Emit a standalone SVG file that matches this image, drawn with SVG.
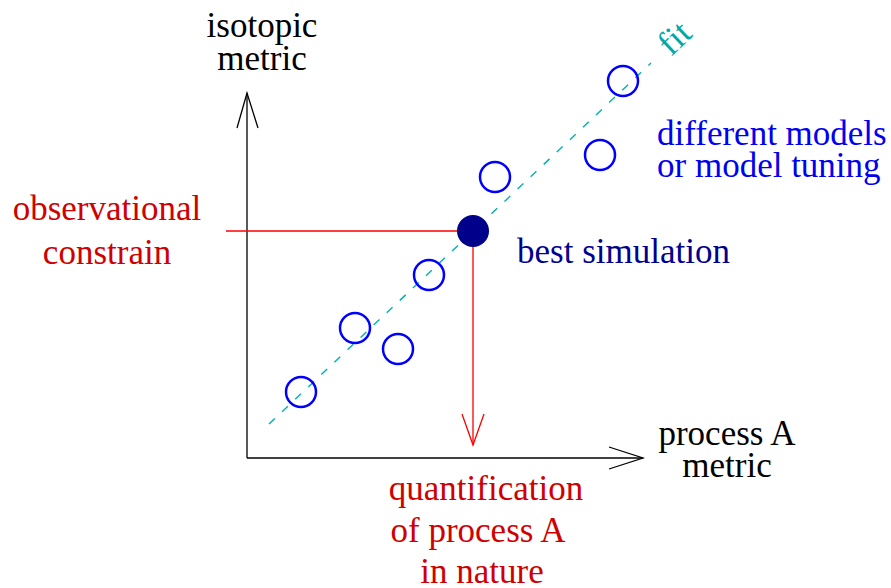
<svg xmlns="http://www.w3.org/2000/svg" width="891" height="588" viewBox="0 0 891 588">
<style>
text{font-family:"Liberation Serif","Times New Roman",serif;font-size:35px}
.k{fill:#000}
.r{fill:#d00000}
.nv{fill:#00008f}
.bl{fill:#0000f0}
.cy{fill:#00a8a8}
.ax{stroke:#000;stroke-width:1.3;fill:none}
.rl{stroke:#ff0000;stroke-width:1.3;fill:none}
.pt{stroke:#0000ff;stroke-width:2.5;fill:none}
.fit{stroke:#00b0b0;stroke-width:1.4;stroke-dasharray:8 10;fill:none}
</style>
<rect width="891" height="588" fill="#fff"/>
<g id="connectors">
<path class="fit" d="M269,424 L651,63"/>
<path class="ax" d="M247,458 L247,93"/>
<path class="ax" d="M237,128 L247,93 L258,128"/>
<path class="ax" d="M247,458 L643,458"/>
<path class="ax" d="M609,447 L643,458 L609,469"/>
<path class="rl" d="M226,231 L473,231 L473,445"/>
<path class="rl" d="M462,414 L473,445 L484,414"/>
</g>
<g id="points">
<circle class="pt" cx="301" cy="392" r="15"/>
<circle class="pt" cx="355" cy="328" r="15"/>
<circle class="pt" cx="398" cy="349" r="15"/>
<circle class="pt" cx="429" cy="275" r="15"/>
<circle class="pt" cx="495" cy="177" r="15"/>
<circle class="pt" cx="600" cy="155" r="15"/>
<circle class="pt" cx="623" cy="81" r="15"/>
</g>
<g id="best">
<circle cx="473" cy="231" r="16" fill="#00008b"/>
<text class="nv" x="517" y="263">best simulation</text>
</g>
<g id="y-label">
<text class="k" x="262" y="37" text-anchor="middle">isotopic</text>
<text class="k" x="262" y="70" text-anchor="middle">metric</text>
</g>
<g id="x-label">
<text class="k" x="727" y="445" text-anchor="middle">process A</text>
<text class="k" x="727" y="477" text-anchor="middle">metric</text>
</g>
<g id="obs-label">
<text class="r" x="107" y="220" text-anchor="middle">observational</text>
<text class="r" x="107" y="264" text-anchor="middle">constrain</text>
</g>
<g id="quant-label">
<text class="r" x="486" y="500" text-anchor="middle">quantification</text>
<text class="r" x="478" y="542" text-anchor="middle">of process A</text>
<text class="r" x="482" y="583" text-anchor="middle">in nature</text>
</g>
<g id="models-label">
<text class="bl" x="657" y="145">different models</text>
<text class="bl" x="657" y="177">or model tuning</text>
</g>
<g id="fit-label">
<text class="cy" x="671" y="57" transform="rotate(-43.4 671 57)">fit</text>
</g>
</svg>
